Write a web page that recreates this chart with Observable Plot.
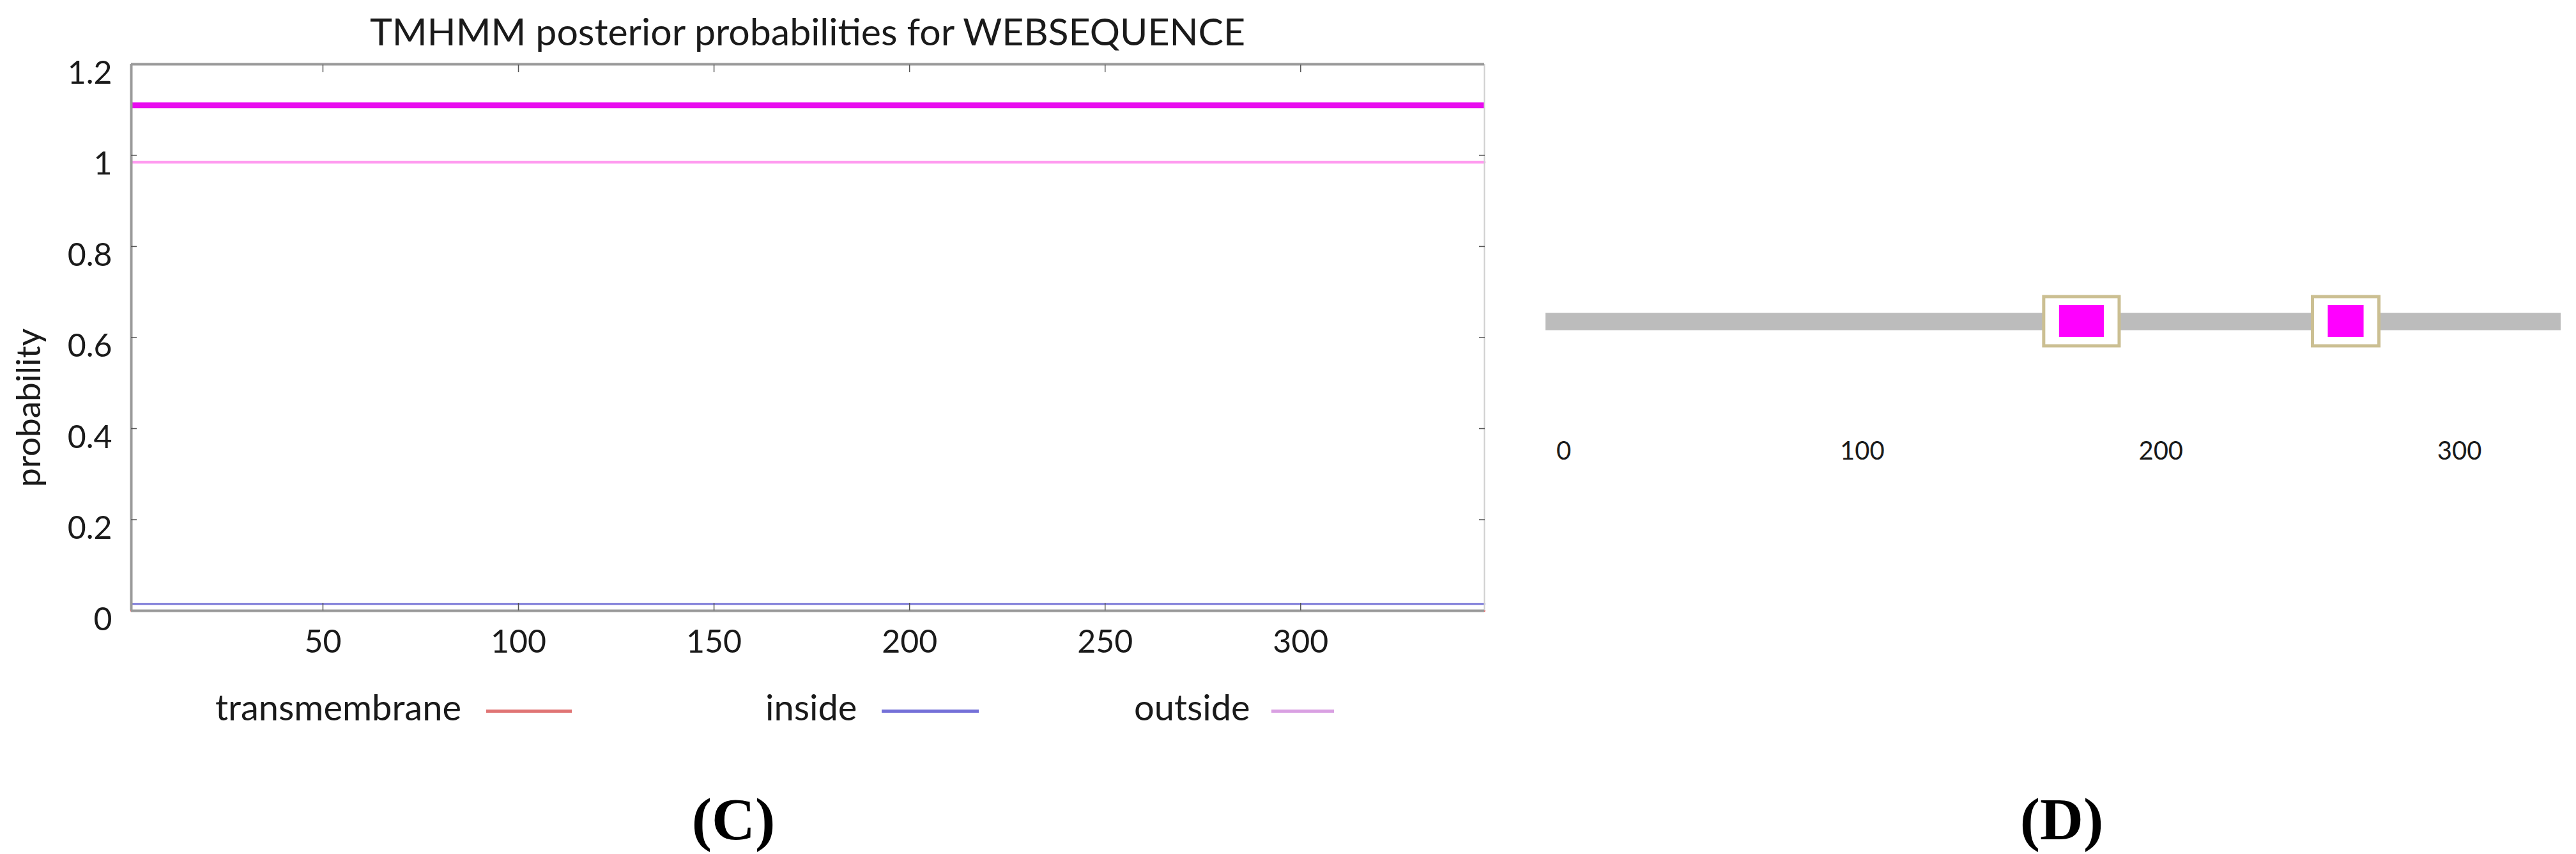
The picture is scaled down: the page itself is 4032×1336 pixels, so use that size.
<!DOCTYPE html>
<html>
<head>
<meta charset="utf-8">
<script src="https://cdn.jsdelivr.net/npm/d3@7"></script>
<script src="https://cdn.jsdelivr.net/npm/@observablehq/plot@0.6"></script>
<style>
html, body { margin: 0; padding: 0; background: #fff; }
#root { position: relative; width: 4032px; height: 1336px; overflow: hidden; background: #fff; font-family: Lato, "Open Sans", sans-serif; color: #1a1a1a; }
.abs { position: absolute; white-space: nowrap; line-height: 1; }
#panelC { position: absolute; left: 0; top: 0; }
#panelD { position: absolute; left: 2360px; top: 440px; }
.title { left: 205px; width: 2118px; top: 19px; text-align: center; font-size: 59px; }
.ylabel { left: 42px; top: 638px; font-size: 53px; transform: translate(-50%, -50%) rotate(-90deg); }
.leg { font-size: 56px; top: 1078px; }
.sw { position: absolute; height: 5px; top: 1110px; }
.panel { font-family: "Liberation Serif", "Times New Roman", serif; font-weight: bold; font-size: 94px; top: 1234px; transform: translateX(-50%); color: #000; }
</style>
</head>
<body>
<div id="root">
  <div id="panelC"></div>
  <div id="panelD"></div>
</div>
<script>
// ---------- Panel C data ----------
const seqPositions = [1, 347];
const transmembraneProb = [0, 0];
const insideProb = [0.015, 0.015];
const outsideProb = [0.985, 0.985];
const topologyStart = [1];
const topologyEnd = [347];
const topologyRegion = ["outside"];
const topologyLevel = [1.11];
const xTicksC = [50, 100, 150, 200, 250, 300];
const yTicksC = [0, 0.2, 0.4, 0.6, 0.8, 1, 1.2];
const yTickLabelsC = ["0", "0.2", "0.4", "0.6", "0.8", "1", "1.2"];
const seriesNames = ["transmembrane", "inside", "outside"];
const seriesColors = ["#e06a6a", "#7c7ad8", "#ff9cf0"];
const legendSwatchColors = ["#e07474", "#7470d8", "#d9a0e2"];
const titleText = "TMHMM posterior probabilities for WEBSEQUENCE";
const yAxisTitle = "probability";

// ---------- Panel D data ----------
const barStart = [-6];
const barEnd = [334];
const tmStart = [166, 256];
const tmEnd = [181, 268];
const xTicksD = [0, 100, 200, 300];

// ---------- build tables ----------
const probRows = [];
[transmembraneProb, insideProb, outsideProb].forEach((vals, s) => {
  vals.forEach((v, i) => probRows.push({series: seriesNames[s], pos: seqPositions[i], p: v}));
});
const topoRows = topologyStart.map((s, i) => ({start: s, end: topologyEnd[i], region: topologyRegion[i], level: topologyLevel[i]}));
const barRows = barStart.map((s, i) => ({start: s, end: barEnd[i]}));
const tmRows = tmStart.map((s, i) => ({start: s, end: tmEnd[i]}));

const FONT = "Lato, 'Open Sans', sans-serif";

// ---------- Panel C ----------
const chartC = Plot.plot({
  width: 2400,
  height: 1060,
  marginLeft: 205,
  marginRight: 77,
  marginTop: 100,
  marginBottom: 105,
  style: {fontFamily: FONT, color: "#1a1a1a", background: "transparent", overflow: "visible"},
  x: {domain: [seqPositions[0], seqPositions[seqPositions.length - 1]]},
  y: {domain: [yTicksC[0], yTicksC[yTicksC.length - 1]]},
  color: {domain: seriesNames, range: seriesColors},
  marks: [
    // probability curves
    Plot.line(probRows.filter(d => d.series === "outside"), {x: "pos", y: "p", stroke: "series", strokeWidth: 4}),
    Plot.line(probRows.filter(d => d.series === "inside"), {x: "pos", y: "p", stroke: "series", strokeWidth: 3}),
    Plot.line(probRows.filter(d => d.series === "transmembrane"), {x: "pos", y: "p", stroke: "series", strokeWidth: 3}),
    // predicted topology bar
    Plot.ruleY(topoRows, {y: "level", x1: "start", x2: "end", stroke: "#e80cef", strokeWidth: 9}),
    // frame
    Plot.ruleX([seqPositions[seqPositions.length - 1]], {stroke: "#d0d0d0", strokeWidth: 2}),
    Plot.ruleY([yTicksC[0]], {stroke: "#9a9a9a", strokeWidth: 4}),
    Plot.ruleY([yTicksC[yTicksC.length - 1]], {stroke: "#9a9a9a", strokeWidth: 4}),
    Plot.ruleX([seqPositions[0]], {stroke: "#9a9a9a", strokeWidth: 4}),
    // inward ticks
    Plot.axisX({anchor: "bottom", ticks: xTicksC, tickSize: 12, dy: -12, tickFormat: () => "", label: null, stroke: "#555", strokeWidth: 1.5}),
    Plot.axisX({anchor: "top", ticks: xTicksC, tickSize: 12, dy: 12, tickFormat: () => "", label: null, stroke: "#555", strokeWidth: 1.5}),
    Plot.axisY({anchor: "left", ticks: yTicksC.slice(1, -1), tickSize: 9, dx: 9, tickFormat: () => "", label: null, stroke: "#555", strokeWidth: 1.5}),
    Plot.axisY({anchor: "right", ticks: yTicksC.slice(1, -1), tickSize: 9, dx: -9, tickFormat: () => "", label: null, stroke: "#555", strokeWidth: 1.5}),
    // tick labels
    Plot.axisX({anchor: "bottom", ticks: xTicksC, tickSize: 0, tickPadding: 30, fontSize: 50, label: null, fill: "#1a1a1a"}),
    Plot.axisY({anchor: "left", ticks: yTicksC, tickSize: 0, tickPadding: 30, dy: 14, fontSize: 50, label: null, fill: "#1a1a1a",
      tickFormat: d => yTickLabelsC[yTicksC.indexOf(d)]})
  ]
});
document.getElementById("panelC").appendChild(chartC);

// ---------- Panel D ----------
const chartD = Plot.plot({
  width: 1672,
  height: 300,
  marginLeft: 59,
  marginRight: 24,
  marginTop: 22,
  marginBottom: 197,
  style: {fontFamily: FONT, color: "#1a1a1a", background: "transparent", overflow: "visible"},
  x: {domain: [barStart[0], barEnd[0]]},
  marks: [
    Plot.ruleY(barRows, {x1: "start", x2: "end", y: null, stroke: "#bcbcbc", strokeWidth: 27}),
    Plot.rect(tmRows, {x1: "start", x2: "end", fill: "#ffffff", stroke: "#cbbf92", strokeWidth: 5, insetLeft: -24, insetRight: -24, insetTop: 2, insetBottom: 2}),
    Plot.rect(tmRows, {x1: "start", x2: "end", fill: "#ff00ff", insetTop: 15, insetBottom: 16}),
    Plot.axisX({anchor: "bottom", ticks: xTicksD, tickSize: 0, tickPadding: 147, fontSize: 40, label: null, fill: "#1a1a1a"})
  ]
});
document.getElementById("panelD").appendChild(chartD);

// ---------- HTML text: title, axis title, legend, panel labels ----------
const root = document.getElementById("root");
function addDiv(cls, text, style) {
  const d = document.createElement("div");
  d.className = "abs " + cls;
  d.textContent = text;
  Object.assign(d.style, style || {});
  root.appendChild(d);
  return d;
}
addDiv("title", titleText);
addDiv("ylabel", yAxisTitle);
const legendTextX = [337, 1198, 1775];
const legendSwX = [761, 1380, 1990];
const legendSwW = [134, 152, 98];
seriesNames.forEach((name, i) => {
  addDiv("leg", name, {left: legendTextX[i] + "px"});
  const sw = document.createElement("div");
  sw.className = "sw";
  Object.assign(sw.style, {left: legendSwX[i] + "px", width: legendSwW[i] + "px", background: legendSwatchColors[i]});
  root.appendChild(sw);
});
addDiv("panel", "(C)", {left: "1148px"});
addDiv("panel", "(D)", {left: "3227px"});
</script>
</body>
</html>
